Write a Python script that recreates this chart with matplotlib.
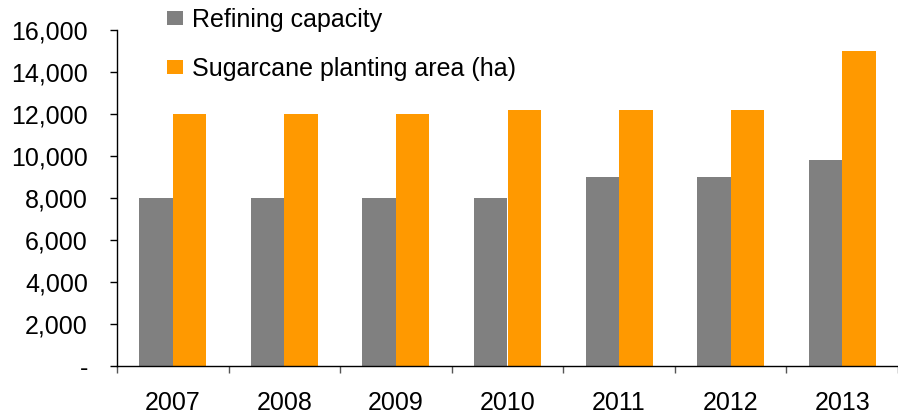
import numpy as np
import matplotlib
matplotlib.use('Agg')
import matplotlib.pyplot as plt
from matplotlib.ticker import FuncFormatter

plt.rcParams['font.family'] = ['Liberation Sans', 'DejaVu Sans']

years = ['2007', '2008', '2009', '2010', '2011', '2012', '2013']
refining = [8000, 8000, 8000, 8000, 9000, 9000, 9800]
sugarcane = [12000, 12000, 12000, 12200, 12200, 12200, 15000]

GRAY = '#808080'
ORANGE = '#ff9900'
FS = 18

fig = plt.figure(figsize=(8.98, 4.15), dpi=100)
ax = fig.add_axes([117 / 898, 1 - 366 / 415, (898 - 117) / 898, 336 / 415])

x = np.arange(len(years))
w = 0.3
ax.bar(x - w / 2, refining, width=w, color=GRAY, label='Refining capacity')
ax.bar(x + w / 2, sugarcane, width=w, color=ORANGE, label='Sugarcane planting area (ha)')

ax.set_ylim(0, 16000)
ax.set_yticks(np.arange(0, 16001, 2000))
ax.yaxis.set_major_formatter(FuncFormatter(lambda v, p: '-' if v == 0 else f'{int(v):,}'))
ax.set_xlim(-0.5, -0.5 + (898 - 117) / 112.5)

# category labels centred, ticks between categories
ax.set_xticks(x)
ax.set_xticklabels(years)
ax.tick_params(axis='x', which='major', length=0, labelsize=FS, pad=18)
ax.set_xticks(np.arange(-0.5, len(years), 1.0), minor=True)
ax.tick_params(axis='x', which='minor', length=5, width=1, color='#555555')
ax.tick_params(axis='y', length=5, width=1, labelsize=FS, pad=16)

for s in ['top', 'right']:
    ax.spines[s].set_visible(False)
ax.spines['left'].set_linewidth(1)
ax.spines['bottom'].set_linewidth(1)

fig.legend(loc='upper left', bbox_to_anchor=(167 / 898, 1 - 8 / 415), frameon=False,
           fontsize=FS, handlelength=0.65, handleheight=0.5, handletextpad=0.35,
           labelspacing=1.0, borderpad=0, borderaxespad=0)

fig.savefig('out.png', dpi=100)
